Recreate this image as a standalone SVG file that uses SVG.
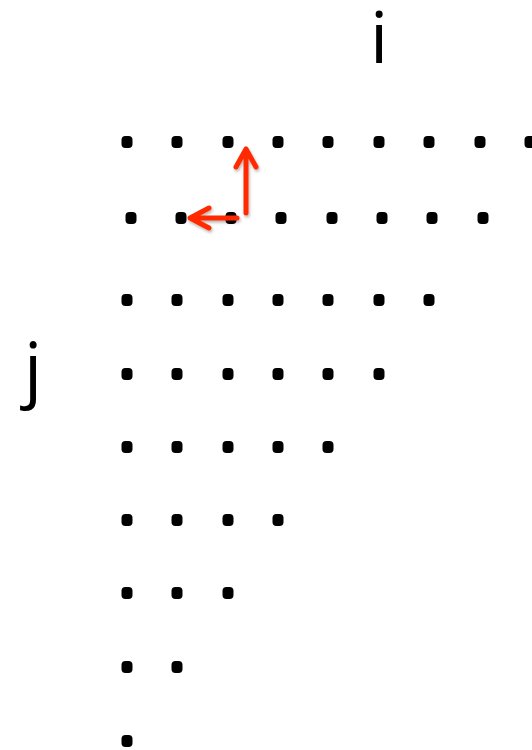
<svg xmlns="http://www.w3.org/2000/svg" width="532" height="750" viewBox="0 0 532 750">
<style>
.d{fill:#000}
.lbl{font-family:"Open Sans","Liberation Sans",sans-serif;font-size:72px;fill:#000;text-anchor:middle}
.arr{stroke:#ff2a00;stroke-width:5;fill:none;stroke-linecap:round;stroke-linejoin:round}
</style>
<defs>
<rect id="dot" x="-5.5" y="-6" width="11" height="12" rx="4" class="d"/>
<filter id="sh" x="-50%" y="-50%" width="200%" height="200%"><feDropShadow dx="1" dy="2" stdDeviation="1.5" flood-color="#000" flood-opacity="0.3"/></filter>
</defs>
<rect width="532" height="750" fill="#fff"/>
<g id="label-i"><text class="lbl" x="379" y="63">i</text></g>
<g id="label-j"><text class="lbl" x="33" y="394">j</text></g>
<g id="row1">
<use href="#dot" x="127" y="142"/><use href="#dot" x="177" y="142"/><use href="#dot" x="228" y="142"/><use href="#dot" x="278" y="142"/><use href="#dot" x="328" y="142"/><use href="#dot" x="379" y="142"/><use href="#dot" x="429" y="142"/><use href="#dot" x="480" y="142"/><use href="#dot" x="530" y="142"/>
</g>
<g id="row2">
<use href="#dot" x="131" y="218"/><use href="#dot" x="181" y="218"/><use href="#dot" x="231" y="218"/><use href="#dot" x="281" y="218"/><use href="#dot" x="332" y="218"/><use href="#dot" x="382" y="218"/><use href="#dot" x="432" y="218"/><use href="#dot" x="483" y="218"/>
</g>
<g id="row3">
<use href="#dot" x="127" y="300"/><use href="#dot" x="177" y="300"/><use href="#dot" x="228" y="300"/><use href="#dot" x="278" y="300"/><use href="#dot" x="328" y="300"/><use href="#dot" x="379" y="300"/><use href="#dot" x="429" y="300"/>
</g>
<g id="row4">
<use href="#dot" x="127" y="374"/><use href="#dot" x="177" y="374"/><use href="#dot" x="228" y="374"/><use href="#dot" x="278" y="374"/><use href="#dot" x="328" y="374"/><use href="#dot" x="379" y="374"/>
</g>
<g id="row5">
<use href="#dot" x="127" y="447"/><use href="#dot" x="177" y="447"/><use href="#dot" x="228" y="447"/><use href="#dot" x="278" y="447"/><use href="#dot" x="328" y="447"/>
</g>
<g id="row6">
<use href="#dot" x="127" y="520"/><use href="#dot" x="177" y="520"/><use href="#dot" x="228" y="520"/><use href="#dot" x="278" y="520"/>
</g>
<g id="row7">
<use href="#dot" x="127" y="593"/><use href="#dot" x="177" y="593"/><use href="#dot" x="228" y="593"/>
</g>
<g id="row8">
<use href="#dot" x="127" y="667"/><use href="#dot" x="177" y="667"/>
</g>
<g id="row9">
<use href="#dot" x="127" y="741"/>
</g>
<g id="connectors" filter="url(#sh)">
<path class="arr" d="M246,213 V149 M236,167 L246,149 L256,167"/>
<path class="arr" d="M237,218 H190 M209,208 L190,218 L209,228"/>
</g>
</svg>
